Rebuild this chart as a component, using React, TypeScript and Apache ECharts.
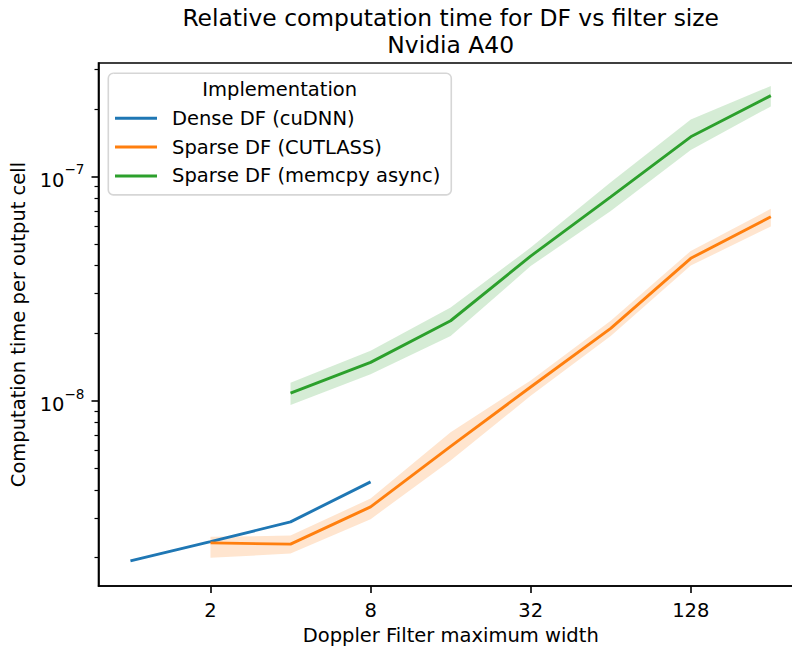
import React, { useEffect, useRef } from "react";
import * as echarts from "echarts";

const FONT = "DejaVu Sans";

const denseX = [1, 2, 4, 8];
const dense = [1.93e-9, 2.35e-9, 2.88e-9, 4.34e-9];

const cutlassX = [2, 4, 8, 16, 32, 64, 128, 256];
const cutlass = [2.32e-9, 2.29e-9, 3.36e-9, 6.25e-9, 1.15e-8, 2.1e-8, 4.31e-8, 6.6e-8];
const cutlassLo = [1.99e-9, 2.08e-9, 2.96e-9, 5.41e-9, 1.05e-8, 1.94e-8, 4.0e-8, 5.98e-8];
const cutlassHi = [2.47e-9, 2.5e-9, 3.66e-9, 7.23e-9, 1.23e-8, 2.27e-8, 4.65e-8, 7.16e-8];

const memcpyX = [4, 8, 16, 32, 64, 128, 256];
const memcpy = [1.08e-8, 1.48e-8, 2.27e-8, 4.41e-8, 8.1e-8, 1.5e-7, 2.29e-7];
const memcpyLo = [9.56e-9, 1.31e-8, 1.94e-8, 3.98e-8, 7.0e-8, 1.31e-7, 2.05e-7];
const memcpyHi = [1.2e-8, 1.67e-8, 2.6e-8, 4.81e-8, 9.4e-8, 1.79e-7, 2.53e-7];

const seriesNames = ["Dense DF (cuDNN)", "Sparse DF (CUTLASS)", "Sparse DF (memcpy async)"];
const colors = ["#1f77b4", "#ff7f0e", "#2ca02c"];

const xTicks = [2, 8, 32, 128];
const yMajorTicks = [1e-8, 1e-7];
const yMinorTicks = [2e-9, 3e-9, 4e-9, 5e-9, 6e-9, 7e-9, 8e-9, 9e-9, 2e-8, 3e-8, 4e-8, 5e-8, 6e-8, 7e-8, 8e-8, 9e-8, 2e-7, 3e-7];

const X_MIN = Math.pow(2, -0.399);
const X_MAX = Math.pow(2, 8.402);
const Y_MIN = Math.pow(10, -8.8267);
const Y_MAX = Math.pow(10, -6.4947);

function band(xs: number[], lo: number[], hi: number[], color: string) {
  return {
    type: "custom",
    silent: true,
    z: 1,
    encode: { x: 0, y: 1 },
    data: xs.map((x, i) => [x, lo[i]]),
    renderItem: (params: any, api: any) => {
      if (params.dataIndex !== 0) return null;
      const top = xs.map((x, i) => api.coord([x, hi[i]]));
      const bottom = xs.map((x, i) => api.coord([x, lo[i]])).reverse();
      return {
        type: "polygon",
        shape: { points: top.concat(bottom) },
        style: { fill: color, opacity: 0.2 },
      };
    },
  };
}

function line(name: string, xs: number[], ys: number[], color: string) {
  return {
    type: "line",
    name,
    z: 3,
    data: xs.map((x, i) => [x, ys[i]]),
    showSymbol: false,
    symbol: "none",
    lineStyle: { color, width: 2.9 },
    itemStyle: { color },
  };
}

export default function App() {
  const ref = useRef<HTMLDivElement>(null);
  useEffect(() => {
    if (!ref.current) return;
    const chart = echarts.init(ref.current, null, { renderer: "svg" });
    const gridLeft = 98.5;
    const gridTop = 63;
    const gridW = 803 - 98.5;
    const gridH = 587.7 - 63;
    chart.setOption({
      animation: false,
      backgroundColor: "#ffffff",
      title: {
        text: "Relative computation time for DF vs filter size\nNvidia A40",
        left: 450.7,
        top: 4.5,
        padding: 0,
        textAlign: "center",
        textStyle: { fontFamily: FONT, fontSize: 23.4, fontWeight: "normal", color: "#000", lineHeight: 27 },
      },
      graphic: [
        {
          type: "text",
          x: 279.7,
          y: 89.3,
          z: 100,
          style: {
            text: "Implementation",
            fontFamily: FONT,
            fontSize: 19.5,
            fill: "#000",
            textAlign: "center",
            textVerticalAlign: "middle",
          },
        },
      ],
      legend: {
        data: seriesNames,
        orient: "vertical",
        left: 108.3,
        top: 73.3,
        padding: [35, 11, 9, 6.7],
        itemGap: 8.8,
        itemWidth: 42,
        itemHeight: 3,
        icon: "rect",
        backgroundColor: "rgba(255,255,255,0.8)",
        borderColor: "#d6d6d6",
        borderWidth: 1.6,
        borderRadius: 5,
        textStyle: { fontFamily: FONT, fontSize: 19.5, color: "#000", lineHeight: 20, padding: [0, 0, 0, 10] },
      },
      grid: {
        left: gridLeft,
        top: gridTop,
        width: gridW,
        height: gridH,
        show: true,
        borderColor: "#000",
        borderWidth: 1.6,
        backgroundColor: "transparent",
      },
      xAxis: {
        type: "log",
        logBase: 2,
        min: X_MIN,
        max: X_MAX,
        name: "Doppler Filter maximum width",
        nameLocation: "middle",
        nameGap: 39,
        nameTextStyle: { fontFamily: FONT, fontSize: 19.5, color: "#000" },
        axisLine: { show: true, lineStyle: { color: "#000", width: 1.6 } },
        axisTick: { show: true, length: 7, lineStyle: { color: "#000", width: 1.6 }, customValues: xTicks },
        axisLabel: {
          customValues: xTicks,
          margin: 14,
          fontFamily: FONT,
          fontSize: 19.5,
          color: "#000",
          formatter: (v: number) => String(Math.round(v)),
        },
        splitLine: { show: false },
        minorTick: { show: false },
      },
      yAxis: [
        {
          type: "log",
          logBase: 10,
          min: Y_MIN,
          max: Y_MAX,
          name: "Computation time per output cell",
          nameLocation: "middle",
          nameGap: 61,
          nameTextStyle: { fontFamily: FONT, fontSize: 19.5, color: "#000" },
          axisLine: { show: true, lineStyle: { color: "#000", width: 1.6 } },
          axisTick: { show: true, length: 7, lineStyle: { color: "#000", width: 1.6 }, customValues: yMajorTicks },
          axisLabel: {
            customValues: yMajorTicks,
            margin: 14,
            fontFamily: FONT,
            color: "#000",
            formatter: (v: number) => {
              const e = Math.round(Math.log10(v));
              return `{b|10}{s|\u2212${-e}}`;
            },
            rich: {
              b: { fontFamily: FONT, fontSize: 19.5, color: "#000", verticalAlign: "bottom", lineHeight: 28 },
              s: { fontFamily: FONT, fontSize: 13.6, color: "#000", verticalAlign: "top", lineHeight: 28 },
            },
          },
          splitLine: { show: false },
        },
        {
          type: "log",
          logBase: 10,
          min: Y_MIN,
          max: Y_MAX,
          position: "left",
          axisLine: { show: false },
          axisTick: { show: true, length: 4, lineStyle: { color: "#000", width: 1.2 }, customValues: yMinorTicks },
          axisLabel: { show: false },
          splitLine: { show: false },
        },
      ],
      series: [
        band(cutlassX, cutlassLo, cutlassHi, colors[1]),
        band(memcpyX, memcpyLo, memcpyHi, colors[2]),
        line(seriesNames[0], denseX, dense, colors[0]),
        line(seriesNames[1], cutlassX, cutlass, colors[1]),
        line(seriesNames[2], memcpyX, memcpy, colors[2]),
      ],
    });
    return () => chart.dispose();
  }, []);
  return (
    <div
      ref={ref}
      style={{ position: "fixed", left: 0, top: 0, width: 812, height: 650, background: "#fff" }}
    />
  );
}
